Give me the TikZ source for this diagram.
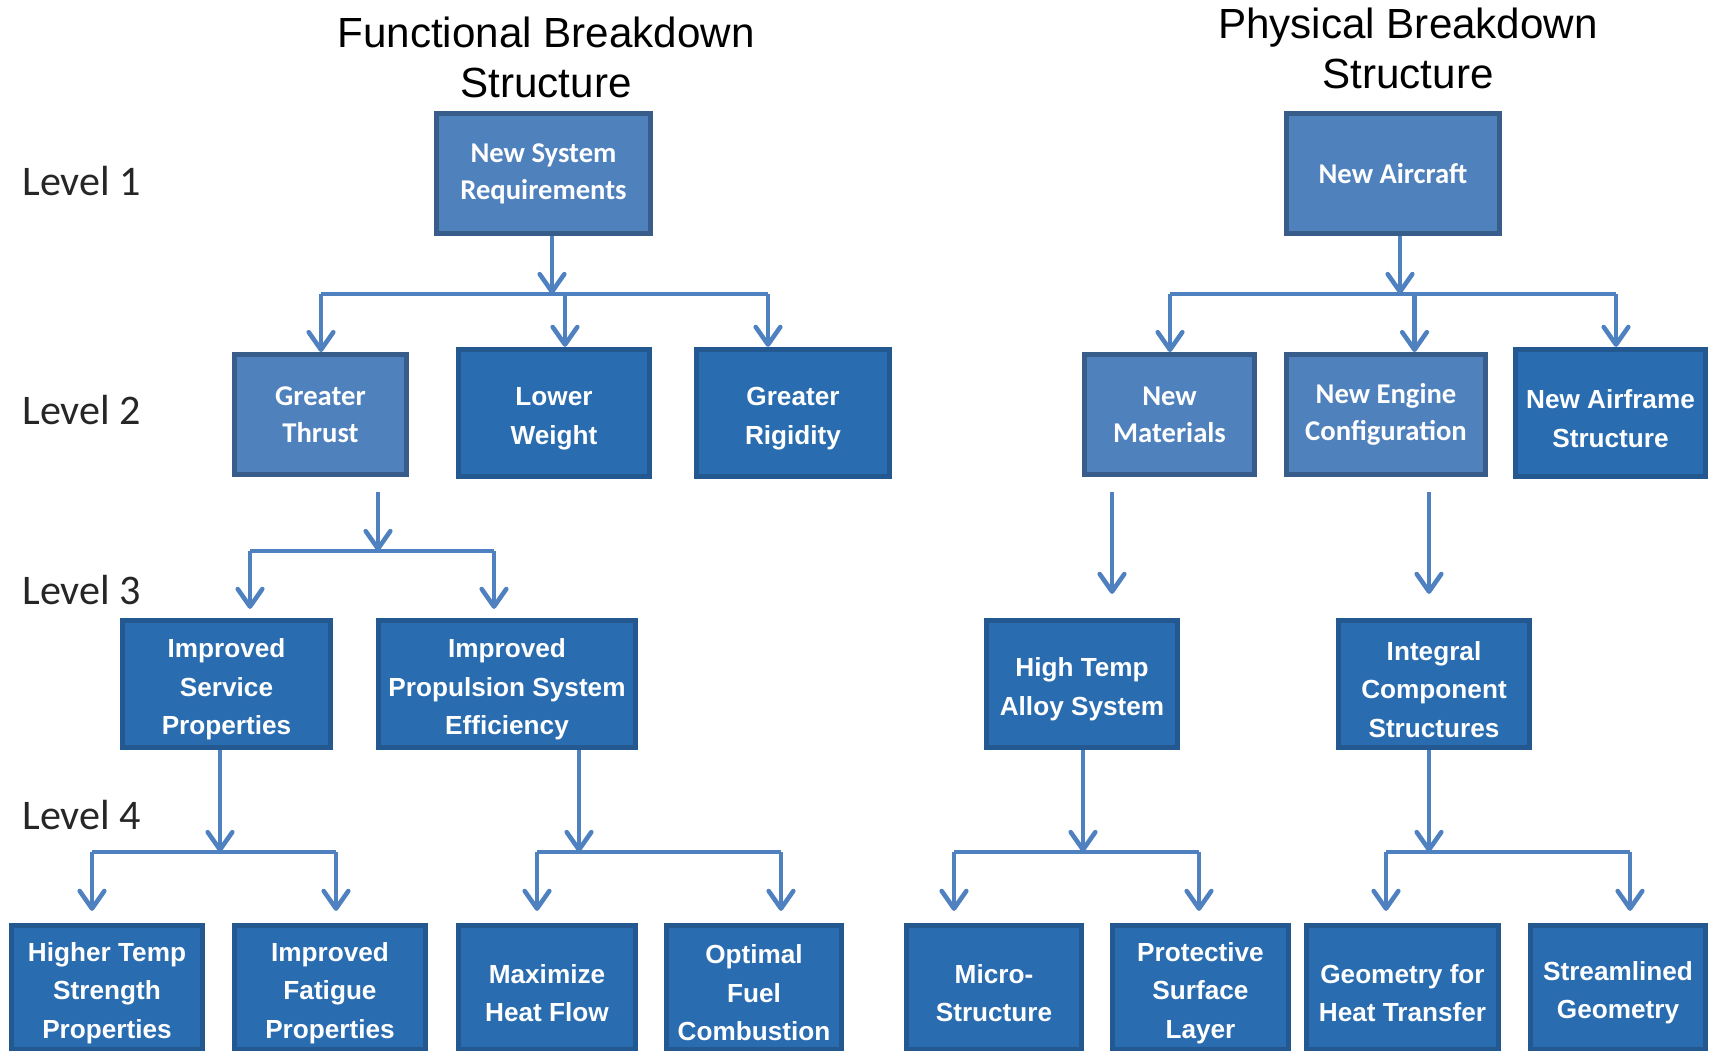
\documentclass[tikz,border=0pt]{standalone}
\usepackage{fontspec}
\setmainfont{Liberation Sans}
\newfontfamily\calibfont{Carlito}
\usetikzlibrary{arrows.meta}

\definecolor{boxdark}{RGB}{42,108,176}
\definecolor{edgedark}{RGB}{36,88,144}
\definecolor{boxlight}{RGB}{79,129,189}
\definecolor{edgelight}{RGB}{56,93,138}
\definecolor{linkblue}{RGB}{79,129,192}

% taller first line, so the text block sits a little lower in its box
\newcommand\boxlift{\rule{0pt}{17pt}}

\begin{document}
\begin{tikzpicture}[x=0.02cm,y=-0.02cm,
  darkbox/.style={draw=edgedark, fill=boxdark, line width=3pt, text=white,
    align=center, inner sep=0pt,
    font=\bfseries\fontsize{14.9}{21.9}\selectfont},
  lightbox/.style={draw=edgelight, fill=boxlight, line width=2.8pt, text=white,
    align=center, inner sep=0pt,
    font=\calibfont\bfseries\fontsize{16.3}{21}\selectfont},
  link/.style={draw=linkblue, line width=2.6pt},
  flow/.style={link, -{Straight Barb[length=10pt,width=14pt,round]}},
  level/.style={anchor=west, inner sep=0pt, text=black!85,
    font=\calibfont\fontsize{24}{28}\selectfont},
  heading/.style={align=center, inner sep=0pt,
    font=\fontsize{24}{28.4}\selectfont}]

\useasboundingbox (0,0) rectangle (1710,1051);

% headings and level labels
\node[heading] (fhead) at (546,57) {Functional Breakdown\\Structure};
\node[heading] (phead) at (1408,48.5) {Physical Breakdown\\Structure};
\node[level] (lv1) at (22,181) {Level 1};
\node[level] (lv2) at (22,410) {Level 2};
\node[level] (lv3) at (22,590) {Level 3};
\node[level] (lv4) at (22,815) {Level 4};

% level 1
\node[lightbox, minimum width=4.28cm, minimum height=2.40cm] (nsr) at (543.5,173.5) {New System\\Requirements};
\node[lightbox, minimum width=4.26cm, minimum height=2.40cm] (na) at (1393,173.5) {New Aircraft};

% level 2
\node[lightbox, minimum width=3.44cm, minimum height=2.40cm] (gt) at (320.5,414.5) {Greater\\Thrust};
\node[darkbox, minimum width=3.82cm, minimum height=2.54cm] (lw) at (554,413) {\boxlift Lower\\Weight};
\node[darkbox, minimum width=3.86cm, minimum height=2.54cm] (gr) at (793,413) {\boxlift Greater\\Rigidity};
\node[lightbox, minimum width=3.40cm, minimum height=2.40cm] (nm) at (1169.5,414.5) {New\\Materials};
\node[lightbox, minimum width=3.98cm, minimum height=2.40cm] (nec) at (1386,414.5) {New Engine\\Configuration};
\node[darkbox, minimum width=3.80cm, minimum height=2.54cm] (nas) at (1610.5,413) {\boxlift New Airframe\\Structure};

% level 3
\node[darkbox, minimum width=4.16cm, minimum height=2.54cm] (isp) at (226.5,684) {\boxlift Improved\\Service\\Properties};
\node[darkbox, minimum width=5.14cm, minimum height=2.54cm] (ipse) at (507,684) {\boxlift Improved\\Propulsion System\\Efficiency};
\node[darkbox, minimum width=3.82cm, minimum height=2.54cm] (htas) at (1082,684) {\boxlift High Temp\\Alloy System};
\node[darkbox, minimum width=3.82cm, minimum height=2.54cm] (ics) at (1434,684) {\boxlift Integral\\Component\\Structures};

% level 4
\node[darkbox, minimum width=3.82cm, minimum height=2.48cm] (htsp) at (107,987.5) {\boxlift Higher Temp\\Strength\\Properties};
\node[darkbox, minimum width=3.82cm, minimum height=2.48cm] (ifp) at (330,987.5) {\boxlift Improved\\Fatigue\\Properties};
\node[darkbox, minimum width=3.54cm, minimum height=2.48cm] (mhf) at (547,987.5) {\boxlift Maximize\\Heat Flow};
\node[darkbox, minimum width=3.50cm, minimum height=2.48cm] (ofc) at (754,987.5) {\boxlift Optimal\\Fuel\\Combustion};
\node[darkbox, minimum width=3.50cm, minimum height=2.48cm] (ms) at (994,987.5) {\boxlift Micro-\\Structure};
\node[darkbox, minimum width=3.52cm, minimum height=2.48cm] (psl) at (1200.5,987.5) {\boxlift Protective\\Surface\\Layer};
\node[darkbox, minimum width=3.84cm, minimum height=2.48cm] (ght) at (1402.5,987.5) {\boxlift Geometry for\\Heat Transfer};
\node[darkbox, minimum width=3.50cm, minimum height=2.48cm] (sg) at (1618,987.5) {\boxlift Streamlined\\Geometry};

% functional: level 1 -> level 2
\coordinate (fa) at (552,294);
\coordinate (fal) at (321,294);
\coordinate (fam) at (565,294);
\coordinate (far) at (768,294);
\draw[flow] (nsr.south -| fa) -- (fa);
\draw[link] (fal) -- (far);
\draw[flow] (fal) -- (fal |- gt.north);
\draw[flow] (fam) -- (fam |- lw.north);
\draw[flow] (far) -- (far |- gr.north);

% physical: level 1 -> level 2
\coordinate (pa) at (1400,294);
\coordinate (pal) at (1170,294);
\coordinate (pam) at (1414.5,294);
\coordinate (par) at (1616,294);
\draw[flow] (na.south -| pa) -- (pa);
\draw[link] (pal) -- (par);
\draw[flow] (pal) -- (pal |- nm.north);
\draw[flow] (pam) -- (pam |- nec.north);
\draw[flow] (par) -- (par |- nas.north);

% functional: level 2 -> level 3
\coordinate (fbs) at (378,492);
\coordinate (fb) at (378,551);
\coordinate (fbl) at (250,551);
\coordinate (fbr) at (494,551);
\draw[flow] (fbs) -- (fb);
\draw[link] (fbl) -- (fbr);
\draw[flow, shorten >=0.18cm] (fbl) -- (fbl |- isp.north);
\draw[flow, shorten >=0.18cm] (fbr) -- (fbr |- ipse.north);

% physical: level 2 -> level 3
\coordinate (pbm) at (1112,492);
\coordinate (pbe) at (1429,492);
\draw[flow, shorten >=0.48cm] (pbm) -- (pbm |- htas.north);
\draw[flow, shorten >=0.48cm] (pbe) -- (pbe |- ics.north);

% level 3 -> level 4
\coordinate (c1) at (220,852);
\coordinate (c1l) at (92,852);
\coordinate (c1r) at (336,852);
\draw[flow] (isp.south -| c1) -- (c1);
\draw[link] (c1l) -- (c1r);
\draw[flow, shorten >=0.24cm] (c1l) -- (c1l |- htsp.north);
\draw[flow, shorten >=0.24cm] (c1r) -- (c1r |- ifp.north);

\coordinate (c2) at (579,852);
\coordinate (c2l) at (537,852);
\coordinate (c2r) at (781,852);
\draw[flow] (ipse.south -| c2) -- (c2);
\draw[link] (c2l) -- (c2r);
\draw[flow, shorten >=0.24cm] (c2l) -- (c2l |- mhf.north);
\draw[flow, shorten >=0.24cm] (c2r) -- (c2r |- ofc.north);

\coordinate (c3) at (1083,852);
\coordinate (c3l) at (954,852);
\coordinate (c3r) at (1199,852);
\draw[flow] (htas.south -| c3) -- (c3);
\draw[link] (c3l) -- (c3r);
\draw[flow, shorten >=0.24cm] (c3l) -- (c3l |- ms.north);
\draw[flow, shorten >=0.24cm] (c3r) -- (c3r |- psl.north);

\coordinate (c4) at (1429,852);
\coordinate (c4l) at (1386,852);
\coordinate (c4r) at (1630,852);
\draw[flow] (ics.south -| c4) -- (c4);
\draw[link] (c4l) -- (c4r);
\draw[flow, shorten >=0.24cm] (c4l) -- (c4l |- ght.north);
\draw[flow, shorten >=0.24cm] (c4r) -- (c4r |- sg.north);
\end{tikzpicture}
\end{document}
